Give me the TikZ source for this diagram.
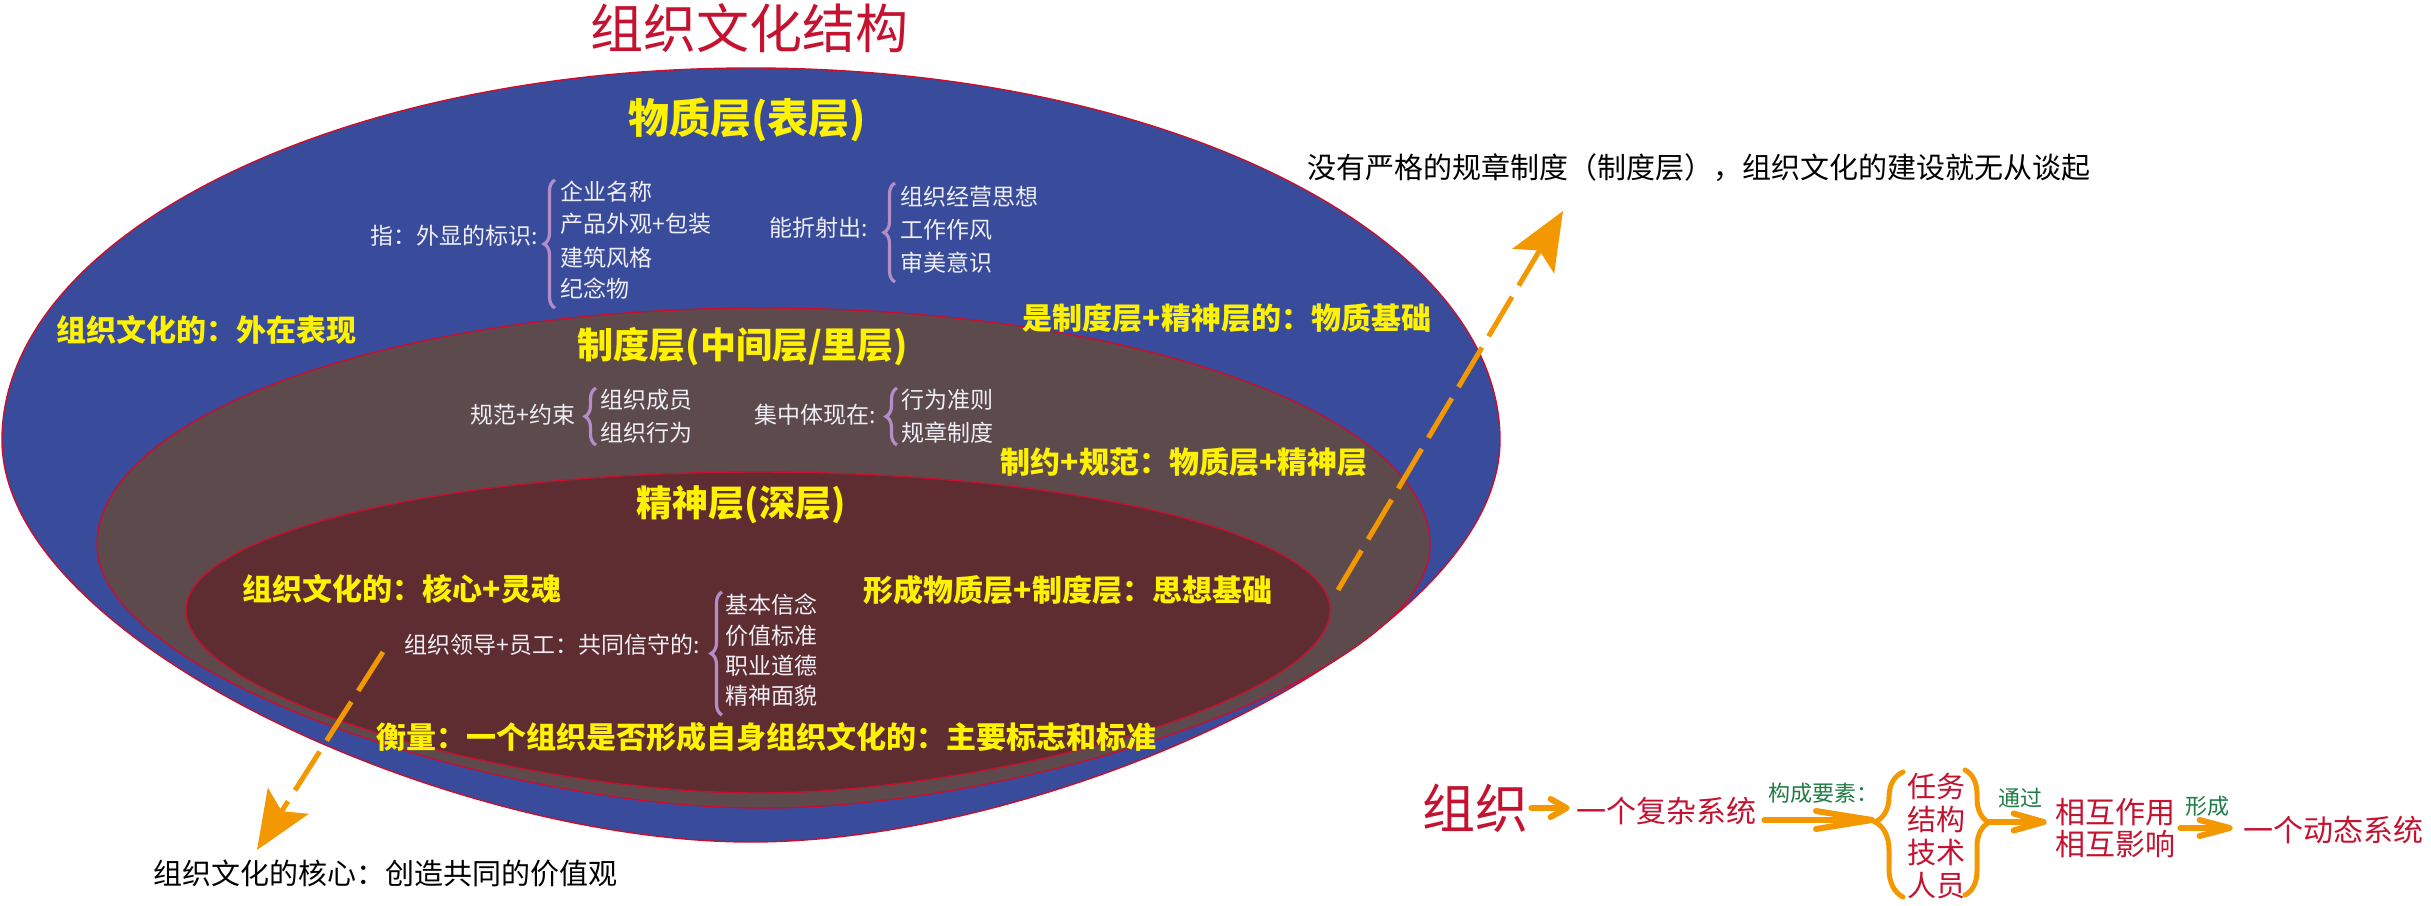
\documentclass[tikz,border=0pt]{standalone}
\usepackage{fontspec}
\setmainfont{Noto Sans CJK SC}
\usetikzlibrary{arrows.meta,decorations.pathreplacing}

\definecolor{bleucouche}{HTML}{394B9B}
\definecolor{griscouche}{HTML}{5C4A4D}
\definecolor{bordeaux}{HTML}{5E2D31}
\definecolor{rougebord}{HTML}{C8102E}
\definecolor{jaune}{HTML}{FFF200}
\definecolor{pale}{HTML}{EEEEF4}
\definecolor{lavande}{HTML}{B48CC8}
\definecolor{orangef}{HTML}{F39800}
\definecolor{rougetexte}{HTML}{C41230}
\definecolor{vert}{HTML}{1E7B46}

\tikzset{
  couche/.style={draw=rougebord, line width=0.7pt},
  titrecouche/.style={text=jaune, inner sep=0pt, font=\fontsize{20.5}{24}\selectfont\bfseries},
  jaunetxt/.style={text=jaune, inner sep=0pt, font=\fontsize{15}{18}\selectfont\bfseries},
  blanctxt/.style={text=pale, inner sep=0pt, font=\fontsize{11.5}{14}\selectfont},
  accol/.style={draw=lavande, line width=1.6pt, decorate, decoration={brace, amplitude=5.5pt}},
  noirtxt/.style={inner sep=0pt, font=\fontsize{14.5}{17}\selectfont},
  rougetxt/.style={text=rougetexte, inner sep=0pt, align=center, font=\fontsize{15}{16.5}\selectfont},
  verttxt/.style={text=vert, inner sep=0pt, font=\fontsize{11}{13}\selectfont},
  flux/.style={draw=orangef, line width=3pt, line cap=round},
  tirets/.style={draw=orangef, line width=2.5pt, dash pattern=on 23pt off 6.5pt,
    -{Stealth[length=29pt,width=24pt,inset=6pt]}}
}

\begin{document}
\begin{tikzpicture}[x=0.5pt,y=-0.5pt]
\useasboundingbox (0,0) rectangle (2431,905);

%les trois couches
\path[couche, fill=bleucouche] (2,440) .. controls (2,235) and (337,68) .. (751,68)
  .. controls (1165,68) and (1500,235) .. (1500,440)
  .. controls (1500,641) and (1051,842) .. (751,842)
  .. controls (451,842) and (2,641) .. cycle;
\path[couche, fill=griscouche] (97,545) .. controls (97,414) and (395,308) .. (763,308)
  .. controls (1131,308) and (1430,414) .. (1430,545)
  .. controls (1430,676) and (1029,808) .. (763,808)
  .. controls (497,808) and (97,676) .. cycle;
\path[couche, fill=bordeaux] (186,610) .. controls (186,534) and (442,472) .. (758,472)
  .. controls (1074,472) and (1330,534) .. (1330,610)
  .. controls (1330,701) and (987,793) .. (758,793)
  .. controls (529,793) and (186,701) .. cycle;

\node[text=rougetexte, inner sep=0pt, font=\fontsize{26.5}{30}\selectfont] (titre) at (749,28) {组织文化结构};

%couche materielle
\node[titrecouche] (mat) at (747,120) {物质层(表层)};
\node[blanctxt, anchor=east] (mata) at (538,236) {指：外显的标识:};
\draw[accol] (555,308) -- (555,180);
\node[blanctxt, anchor=west] (ma1) at (560,192) {企业名称};
\node[blanctxt, anchor=west] (ma2) at (560,224) {产品外观+包装};
\node[blanctxt, anchor=west] (ma3) at (560,258) {建筑风格};
\node[blanctxt, anchor=west] (ma4) at (560,289) {纪念物};
\node[blanctxt, anchor=east] (matb) at (868,228) {能折射出:};
\draw[accol] (895,282) -- (895,183);
\node[blanctxt, anchor=west] (mb1) at (900,197) {组织经营思想};
\node[blanctxt, anchor=west] (mb2) at (900,230) {工作作风};
\node[blanctxt, anchor=west] (mb3) at (900,263) {审美意识};
\node[jaunetxt] (matg) at (206,330) {组织文化的：外在表现};
\node[jaunetxt] (matd) at (1227,318) {是制度层+精神层的：物质基础};

%couche institutionnelle
\node[titrecouche, font=\fontsize{18}{22}\selectfont\bfseries] (ins) at (743,347) {制度层(中间层/里层)};
\node[blanctxt, anchor=east] (insa) at (576,415) {规范+约束};
\draw[accol] (596,445) -- (596,388);
\node[blanctxt, anchor=west] (ia1) at (600,400) {组织成员};
\node[blanctxt, anchor=west] (ia2) at (600,433) {组织行为};
\node[blanctxt, anchor=east] (insb) at (876,415) {集中体现在:};
\draw[accol] (897,445) -- (897,388);
\node[blanctxt, anchor=west] (ib1) at (901,400) {行为准则};
\node[blanctxt, anchor=west] (ib2) at (901,433) {规章制度};
\node[jaunetxt] (insd) at (1184,462) {制约+规范：物质层+精神层};

%couche spirituelle
\node[titrecouche, font=\fontsize{18}{22}\selectfont\bfseries] (spi) at (741,505) {精神层(深层)};
\node[jaunetxt] (spig) at (402,589) {组织文化的：核心+灵魂};
\node[jaunetxt] (spid) at (1068,590) {形成物质层+制度层：思想基础};
\node[blanctxt, anchor=east] (spia) at (700,645) {组织领导+员工：共同信守的:};
\draw[accol] (722,715) -- (722,592);
\node[blanctxt, anchor=west] (sa1) at (725,605) {基本信念};
\node[blanctxt, anchor=west] (sa2) at (725,636) {价值标准};
\node[blanctxt, anchor=west] (sa3) at (725,666) {职业道德};
\node[blanctxt, anchor=west] (sa4) at (725,696) {精神面貌};
\node[jaunetxt] (mesure) at (766,737) {衡量：一个组织是否形成自身组织文化的：主要标志和标准};

%remarques
\node[noirtxt, anchor=west] (regle) at (1307,168) {没有严格的规章制度（制度层），组织文化的建设就无从谈起};
\node[noirtxt] (coeur) at (385,873) {组织文化的核心：创造共同的价值观};
\coordinate (hd) at (1338,590);
\coordinate (hf) at (1563,211);
\draw[tirets] (hd) -- (hf);
\coordinate (bd) at (383,652);
\coordinate (bf) at (257,850);
\draw[tirets] (bd) -- (bf);

%organisation
\node[text=rougetexte, inner sep=0pt, font=\fontsize{26.5}{30}\selectfont] (org) at (1475,808) {组织};
\node[rougetxt] (sys) at (1666,811) {一个复杂系统};
\draw[flux, -{Straight Barb[length=8pt,width=9pt,round]}, shorten <=1.5pt, shorten >=3pt] (org.east) -- (org.east -| sys.west);
\node[verttxt] (elem) at (1823,793) {构成要素：};
\node[rougetxt, font=\fontsize{14.5}{16.5}\selectfont] (items) at (1936,836) {任务\\结构\\技术\\人员};
\draw[flux, line width=2.5pt, decorate, decoration={brace, amplitude=14pt, aspect=0.6}] (1903,897) -- (1903,772);
\draw[flux, line width=2.5pt, decorate, decoration={brace, amplitude=12pt, aspect=0.42}] (1965,770) -- (1965,895);
\coordinate (pg) at (1875,820);
\coordinate (pd) at (1988,822);
\draw[flux, -{Straight Barb[length=28pt,width=9pt,round]}, shorten <=4pt] (sys.east |- pg) -- (pg);
\node[verttxt] (via) at (2020,798) {通过};
\node[rougetxt, font=\fontsize{15}{16}\selectfont] (rel) at (2115,828) {相互作用\\相互影响};
\draw[flux, -{Straight Barb[length=15pt,width=8.5pt,round]}, shorten >=4pt] (pd) -- (pd -| rel.west);
\node[verttxt] (forme) at (2207,806) {形成};
\node[rougetxt] (dyn) at (2333,830) {一个动态系统};
\draw[flux, -{Straight Barb[length=15pt,width=8pt,round]}, shorten <=2.5pt, shorten >=5pt] (rel.east) -- (rel.east -| dyn.west);
\end{tikzpicture}
\end{document}
